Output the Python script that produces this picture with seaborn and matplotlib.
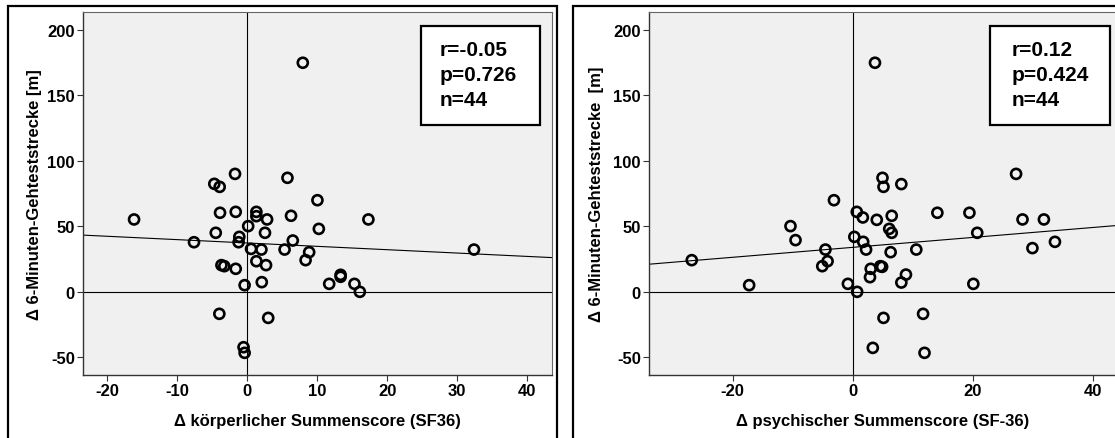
import matplotlib
matplotlib.use("Agg")
import matplotlib.pyplot as plt
import matplotlib.patches as mpatches
import seaborn as sns
import numpy as np

# ---- data ----
phys_x = [7.95, -1.73, -4.69, -3.92, 5.76, 10.04, -3.87, -1.63, 1.32, 1.32, 2.85, 6.27,
          -16.15, 17.32, 0.15, -4.48, 2.55, 10.24, -1.12, -1.22, -7.59, 6.52, 0.56, 2.04,
          5.35, 8.86, 8.35, 1.32, 32.4, -3.67, -3.26, -1.63, 2.70, 2.09, -0.36, 11.72,
          13.35, 13.35, 15.33, 16.10, -3.97, 3.01, -0.51, -0.36]
phys_y = [175.0, 90.1, 82.5, 80.2, 87.1, 70.0, 60.4, 61.1, 61.1, 57.8, 55.3, 58.1,
          55.3, 55.3, 50.2, 45.1, 45.1, 48.1, 42.0, 37.9, 37.9, 39.2, 32.8, 32.3,
          32.3, 30.3, 24.2, 23.4, 32.3, 20.4, 19.6, 17.6, 20.4, 7.4, 5.1, 6.1,
          13.0, 11.5, 6.1, 0.0, -16.8, -19.9, -42.3, -46.6]

psych_x = [3.68, 27.18, 4.93, 5.10, 8.07, -3.15, 0.65, 1.66, 3.98, 6.47, 14.07, 19.41,
           28.25, 31.81, -10.39, -9.55, 0.24, 1.72, 2.20, 6.05, 6.47, 20.71, 6.29, 10.56,
           29.90, 33.65, -4.57, -4.21, -5.10, -26.83, -17.27, -0.83, 0.71, 2.97, 2.85,
           4.57, 4.87, 8.84, 8.07, 20.06, 11.69, 5.10, 3.32, 11.93]
psych_y = [175.0, 90.1, 87.1, 80.2, 82.3, 70.0, 61.1, 56.8, 55.0, 58.1, 60.4, 60.4,
           55.3, 55.3, 50.2, 39.5, 42.0, 38.2, 32.3, 48.1, 45.1, 45.1, 30.3, 32.3,
           33.4, 38.2, 32.3, 23.4, 19.6, 24.2, 5.1, 6.1, 0.0, 17.6, 11.2,
           19.6, 19.1, 13.2, 7.1, 6.1, -16.8, -19.9, -42.8, -46.6]

xlabel_phys = "Δ körperlicher Summenscore (SF36)"
xlabel_psych = "Δ psychischer Summenscore (SF-36)"
ylabel_left = "Δ 6-Minuten-Gehteststrecke [m]"
ylabel_right = "Δ 6-Minuten-Gehteststrecke  [m]"
stats_phys = ["r=-0.05", "p=0.726", "n=44"]
stats_psych = ["r=0.12", "p=0.424", "n=44"]
xticks_phys = [-20, -10, 0, 10, 20, 30, 40]
xticks_psych = [-20, 0, 20, 40]
yticks = [-50, 0, 50, 100, 150, 200]

sns.set_theme(style="white")
plt.rcParams['font.family'] = ['Liberation Sans', 'DejaVu Sans']
plt.rcParams['font.weight'] = 'bold'
plt.rcParams['text.color'] = 'black'
plt.rcParams['axes.labelcolor'] = 'black'

W, H = 1115, 439
fig = plt.figure(figsize=(W / 100, H / 100), dpi=100)
fig.patch.set_facecolor("white")


def fx(px):
    return px / W


def fy(py):
    return 1 - py / H


def make_axes(left_px, right_px, top_px=12.7, bottom_px=375.7):
    return fig.add_axes([fx(left_px), fy(bottom_px), (right_px - left_px) / W,
                         (bottom_px - top_px) / H])


ax1 = make_axes(83.3, 551.7)
ax2 = make_axes(649.3, 1116.5)

# panel frames
for x0, x1 in [(8, 557.3), (573.3, 1130)]:
    r = mpatches.Rectangle((fx(x0), fy(460)), (x1 - x0) / W, (460 - 6.7) / H,
                           transform=fig.transFigure, fill=False, edgecolor="black",
                           linewidth=1.6, clip_on=False)
    fig.add_artist(r)


def draw(ax, x, y, xlim, xticks, xlabel, ylabel, ylabelpad, stats, box_px, text_px):
    ax.set_facecolor("#f0f0f0")
    ax.set_xlim(*xlim)
    ax.set_ylim(-63.3, 214)
    ax.axvline(0, color="black", lw=0.8, zorder=1)
    ax.axhline(0, color="black", lw=0.8, zorder=1)
    sns.regplot(x=np.array(x), y=np.array(y), ax=ax, ci=None, truncate=False,
                scatter_kws=dict(facecolors="none", edgecolors="black", s=52,
                                 linewidths=1.9, alpha=1, zorder=3),
                line_kws=dict(color="black", lw=0.8, zorder=2))
    ax.set_xlim(*xlim)
    ax.set_ylim(-63.3, 214)
    ax.set_xticks(xticks)
    ax.set_yticks(yticks)
    ax.set_xticklabels([str(t) for t in xticks], fontsize=12, fontweight="bold")
    ax.set_yticklabels([str(t) for t in yticks], fontsize=12, fontweight="bold")
    ax.tick_params(axis="both", direction="out", length=4.5, width=0.8, color="#333333",
                   bottom=True, left=True, pad=1.5, labelcolor="black")
    ax.set_xlabel(xlabel, fontsize=12, fontweight="bold", labelpad=11)
    ax.set_ylabel(ylabel, fontsize=12, fontweight="bold", labelpad=ylabelpad)
    for side in ["left", "bottom"]:
        ax.spines[side].set_color("#333333")
        ax.spines[side].set_linewidth(1.0)
    for side in ["top", "right"]:
        ax.spines[side].set_color("#666666")
        ax.spines[side].set_linewidth(0.8)
    bx0, by0, bx1, by1 = box_px
    rect = mpatches.Rectangle((fx(bx0), fy(by1)), (bx1 - bx0) / W, (by1 - by0) / H,
                              transform=fig.transFigure, facecolor="white",
                              edgecolor="black", linewidth=1.6, zorder=5)
    fig.add_artist(rect)
    for s, base in zip(stats, [56, 80.7, 106]):
        fig.text(fx(text_px), fy(base), s, fontsize=15, fontweight="bold",
                 va="baseline", ha="left", zorder=6, color="black")


draw(ax1, phys_x, phys_y, (-23.4, 43.5), xticks_phys, xlabel_phys, ylabel_left, 4,
     stats_phys, (420.7, 26.7, 540, 126), 439.3)
draw(ax2, psych_x, psych_y, (-33.9, 43.9), xticks_psych, xlabel_psych, ylabel_right, 7,
     stats_psych, (990, 26.7, 1110, 126), 1012)

fig.savefig("out.png", dpi=100)
